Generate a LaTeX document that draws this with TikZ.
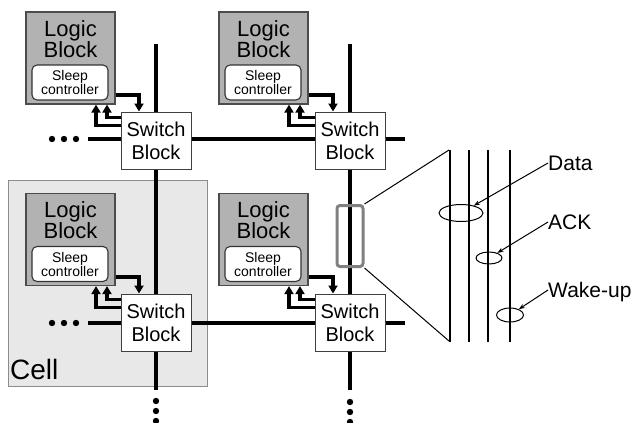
\documentclass[tikz,border=0pt]{standalone}
\usepackage{fontspec}
\setmainfont{Liberation Sans}
\usetikzlibrary{arrows.meta, shapes.geometric}

\begin{document}
\begin{tikzpicture}[x=1pt, y=-1pt,
    logic/.style={draw=black!70, line width=1.2pt, fill=black!30, minimum width=89pt, minimum height=92pt, inner sep=0pt},
    logictext/.style={anchor=north, inner sep=0pt, yshift=-8.5pt, align=center, font=\fontsize{22}{21}\selectfont},
    sleep/.style={draw=black!80, line width=1.1pt, fill=white, rounded corners=5pt, minimum width=76pt, minimum height=35pt, inner sep=0pt, align=center, font=\fontsize{14}{14}\selectfont},
    switch/.style={draw=black!75, line width=1pt, fill=white, minimum width=70pt, minimum height=57pt, inner sep=0pt, align=center, font=\fontsize{20}{23}\selectfont},
    bus/.style={line width=4pt},
    ctl/.style={line width=3.2pt, -{Triangle[length=8pt, width=9pt]}},
    wire/.style={line width=2.8pt},
    ring/.style={ellipse, draw, line width=1pt, inner sep=0pt},
    pointer/.style={line width=1pt, -{Stealth[length=6pt, width=4.5pt]}},
    tag/.style={anchor=west, inner sep=0pt, text height=15pt, text depth=0pt, font=\fontsize{21}{21}\selectfont}]

    \useasboundingbox (0,0) rectangle (632,423);

    % the cell
    \node[draw=black!45, line width=0.8pt, fill=black!9, minimum width=199pt, minimum height=206pt, inner sep=0pt] (cell) at (107.5,283) {};
    \node[anchor=base west, inner sep=0pt, font=\fontsize{28}{28}\selectfont] (celltext) at (10,379) {Cell};

    % logic blocks
    \node[logic] (lbA) at (70.5,58) {};
    \node[logictext] at (lbA.north) {Logic\\Block};
    \node[sleep] (scA) at (70,82.5) {Sleep\\controller};
    \node[logic] (lbB) at (263.5,58) {};
    \node[logictext] at (lbB.north) {Logic\\Block};
    \node[sleep] (scB) at (263,82.5) {Sleep\\controller};
    \node[logic] (lbC) at (70.5,239.5) {};
    \node[logictext] at (lbC.north) {Logic\\Block};
    \node[sleep] (scC) at (70,264) {Sleep\\controller};
    \node[logic] (lbD) at (263.5,239.5) {};
    \node[logictext] at (lbD.north) {Logic\\Block};
    \node[sleep] (scD) at (263,264) {Sleep\\controller};

    % switch blocks
    \node[switch] (swA) at (156,140.5) {Switch\\Block};
    \node[switch] (swB) at (350,140.5) {Switch\\Block};
    \node[switch] (swC) at (156,322.5) {Switch\\Block};
    \node[switch] (swD) at (350,322.5) {Switch\\Block};

    % routing tracks
    \coordinate (topA) at (156,44);
    \coordinate (topB) at (350,44);
    \coordinate (endA) at (156,390);
    \coordinate (endB) at (350,390);
    \coordinate (westA) at (88,139);
    \coordinate (westC) at (88,323);
    \coordinate (eastB) at (405,139);
    \coordinate (eastD) at (405,323);
    \draw[bus] (topA) -- (swA.north);
    \draw[bus] (swA.south) -- (swC.north);
    \draw[bus] (swC.south) -- (endA);
    \draw[bus] (topB) -- (swB.north);
    \draw[bus] (swB.south) -- (swD.north);
    \draw[bus] (swD.south) -- (endB);
    \draw[bus] (westA) -- (swA.west |- westA);
    \draw[bus] (swA.east |- westA) -- (swB.west |- westA);
    \draw[bus] (swB.east |- eastB) -- (eastB);
    \draw[bus] (westC) -- (swC.west |- westC);
    \draw[bus] (swC.east |- westC) -- (swD.west |- westC);
    \draw[bus] (swD.east |- eastD) -- (eastD);

    \fill (52,139) circle (3.2pt) (64,139) circle (3.2pt) (76,139) circle (3.2pt);
    \fill (52,323) circle (3.2pt) (64,323) circle (3.2pt) (76,323) circle (3.2pt);
    \fill (156,401) circle (3.2pt) (156,411) circle (3.2pt) (156,421) circle (3.2pt);
    \fill (350,402) circle (3.2pt) (350,412) circle (3.2pt) (350,422) circle (3.2pt);

    % sleep control signals
    \draw[ctl] (lbA.east |- 0,95) -| ([xshift=-17pt]swA.north);
    \draw[ctl] ([yshift=-6pt]swA.north west) -| ([xshift=36.5pt]lbA.south);
    \draw[ctl] ([yshift=-14pt]swA.north west) -| ([xshift=25.5pt]lbA.south);
    \draw[ctl] (lbB.east |- 0,95) -| ([xshift=-17pt]swB.north);
    \draw[ctl] ([yshift=-6pt]swB.north west) -| ([xshift=36.5pt]lbB.south);
    \draw[ctl] ([yshift=-14pt]swB.north west) -| ([xshift=25.5pt]lbB.south);
    \draw[ctl] (lbC.east |- 0,277) -| ([xshift=-17pt]swC.north);
    \draw[ctl] ([yshift=-6pt]swC.north west) -| ([xshift=36.5pt]lbC.south);
    \draw[ctl] ([yshift=-14pt]swC.north west) -| ([xshift=25.5pt]lbC.south);
    \draw[ctl] (lbD.east |- 0,277) -| ([xshift=-17pt]swD.north);
    \draw[ctl] ([yshift=-6pt]swD.north west) -| ([xshift=36.5pt]lbD.south);
    \draw[ctl] ([yshift=-14pt]swD.north west) -| ([xshift=25.5pt]lbD.south);

    % zoomed track
    \node[draw=black!50, line width=3pt, rounded corners=3pt, minimum width=26pt, minimum height=61pt, inner sep=0pt] (tap) at (350,236) {};
    \coordinate (fanA) at (449,150);
    \coordinate (fanB) at (449,341);
    \draw[line width=1pt] (tap.north east) -- (fanA);
    \draw[line width=1pt] (tap.south east) -- (fanB);
    \draw[wire] (450,150) -- (450,342);
    \draw[wire] (469,150) -- (469,342);
    \draw[wire] (488,150) -- (488,342);
    \draw[wire] (510,150) -- (510,342);

    \node[ring, minimum width=44pt, minimum height=17pt] (ringdata) at (461,213) {};
    \node[ring, minimum width=26pt, minimum height=12pt] (ringack) at (489,258) {};
    \node[ring, minimum width=27pt, minimum height=14pt] (ringwake) at (510,315) {};
    \node[tag] (data) at (548,163) {Data};
    \node[tag] (ack) at (548,222) {ACK};
    \node[tag] (wake) at (548,290) {Wake-up};
    \draw[pointer] (data.west) -- (ringdata);
    \draw[pointer] (ack.west) -- (ringack);
    \draw[pointer] (wake.west) -- (ringwake);

\end{tikzpicture}
\end{document}
